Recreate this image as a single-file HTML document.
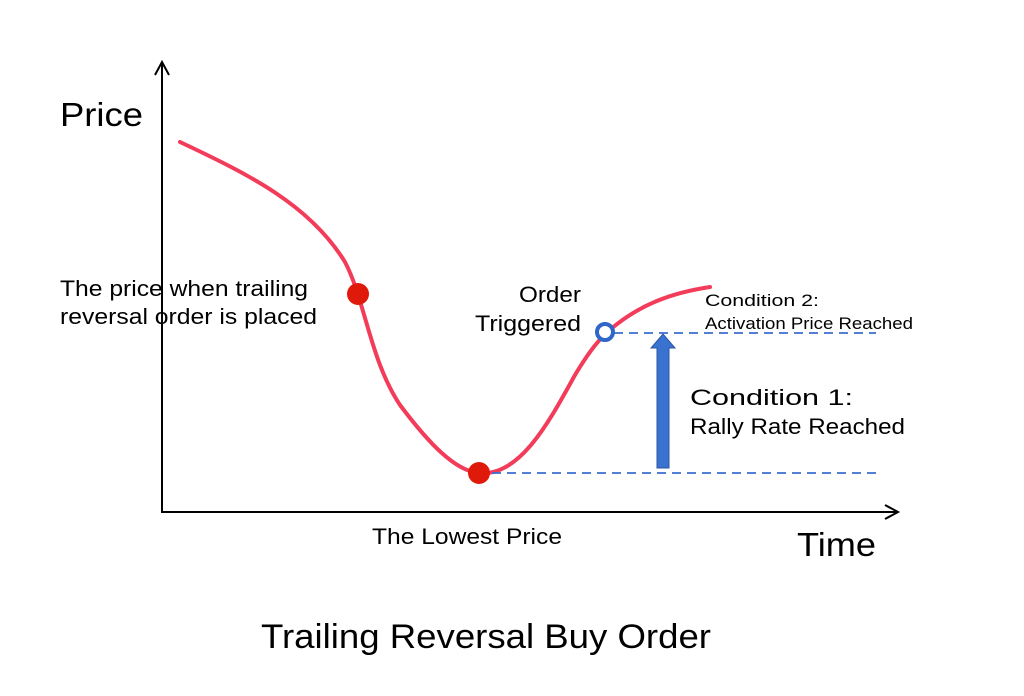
<!DOCTYPE html>
<html><head><meta charset="utf-8"><style>
html,body{margin:0;padding:0;background:#fff;}
svg{display:block;font-family:"Liberation Sans",sans-serif;}
</style></head><body>
<svg width="1024" height="696" viewBox="0 0 1024 696">
<g stroke="#000" stroke-width="2" fill="none">
<line x1="162" y1="62" x2="162" y2="513"/>
<line x1="161" y1="512" x2="898" y2="512"/>
<polyline points="155,75 162,62 169,75"/>
<polyline points="885,505 898,512 885,519"/>
</g>
<path d="M180,142 C250,175 310,205 345,262 C365,300 370,360 400,405 C430,445 455,470 478,473 C520,478 550,420 575,375 C590,350 600,338 612,328 C640,305 670,293 710,287" fill="none" stroke="#f23c5a" stroke-width="4" stroke-linecap="round"/>
<g stroke="#3a6fd0" stroke-width="1.8" stroke-dasharray="9,6" fill="none">
<line x1="614" y1="333" x2="876" y2="333"/>
<line x1="492" y1="473" x2="876" y2="473"/>
</g>
<path d="M657,468 L657,348 L651,348 L663,334 L675,348 L669,348 L669,468 Z" fill="#3a72d0" stroke="#2a55a8" stroke-width="1"/>
<circle cx="358" cy="294" r="11" fill="#e01a0a"/>
<circle cx="479" cy="473" r="11" fill="#e01a0a"/>
<circle cx="605" cy="332" r="8" fill="#fff" stroke="#2f66c8" stroke-width="4"/>
<g fill="#000">
<text x="60" y="126" font-size="33" textLength="83" lengthAdjust="spacingAndGlyphs">Price</text>
<text x="797" y="556" font-size="33" textLength="79" lengthAdjust="spacingAndGlyphs">Time</text>
<text x="60" y="296" font-size="22" textLength="248" lengthAdjust="spacingAndGlyphs">The price when trailing</text>
<text x="60" y="324" font-size="22" textLength="257" lengthAdjust="spacingAndGlyphs">reversal order is placed</text>
<text x="519" y="302" font-size="22" textLength="62" lengthAdjust="spacingAndGlyphs">Order</text>
<text x="475" y="331" font-size="22" textLength="106" lengthAdjust="spacingAndGlyphs">Triggered</text>
<text x="705" y="306" font-size="17" textLength="114" lengthAdjust="spacingAndGlyphs">Condition 2:</text>
<text x="705" y="329" font-size="17" textLength="208" lengthAdjust="spacingAndGlyphs">Activation Price Reached</text>
<text x="690" y="405" font-size="22" textLength="163" lengthAdjust="spacingAndGlyphs">Condition 1:</text>
<text x="690" y="434" font-size="22" textLength="215" lengthAdjust="spacingAndGlyphs">Rally Rate Reached</text>
<text x="372" y="544" font-size="22" textLength="190" lengthAdjust="spacingAndGlyphs">The Lowest Price</text>
<text x="261" y="648" font-size="34" textLength="450" lengthAdjust="spacingAndGlyphs">Trailing Reversal Buy Order</text>
</g>
</svg>
</body></html>
